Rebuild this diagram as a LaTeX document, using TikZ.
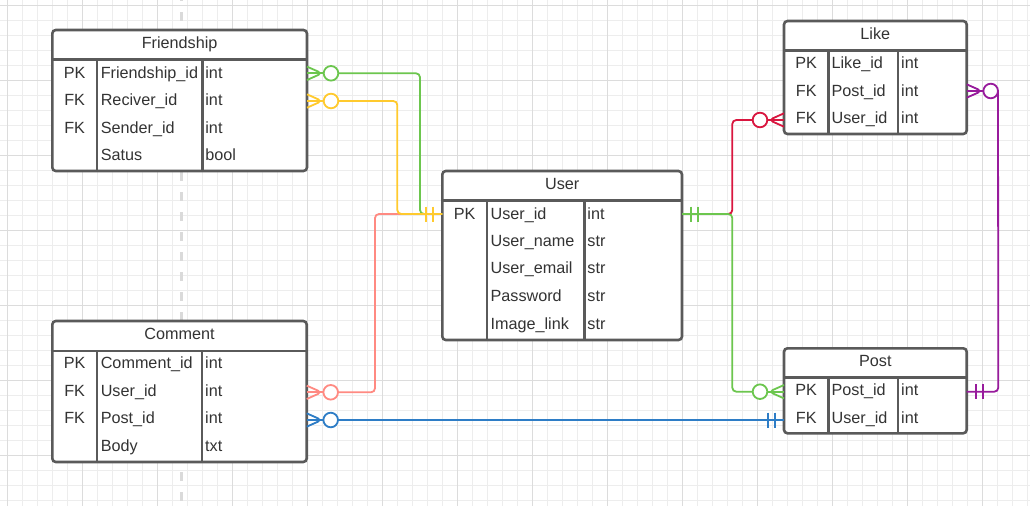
\documentclass[tikz,border=0pt]{standalone}
\usepackage{fontspec}
\setmainfont{Liberation Sans}
\usetikzlibrary{calc}
\definecolor{gridminor}{HTML}{EDEDED}
\definecolor{gridmajor}{HTML}{DCDCDC}
\definecolor{dashgray}{HTML}{DADADA}
\definecolor{tborder}{HTML}{5A5A5A}
\definecolor{ttext}{HTML}{333333}
\definecolor{cgreen}{HTML}{6CC64E}
\definecolor{cyellow}{HTML}{FFCA2E}
\definecolor{csalmon}{HTML}{FF8A82}
\definecolor{cblue}{HTML}{2E7DC6}
\definecolor{cred}{HTML}{D9163F}
\definecolor{cpurple}{HTML}{981B9C}
\tikzset{
  tbl/.style={draw=tborder, line width=2.6pt, rounded corners=3.5pt, fill=white,
    anchor=north west, outer sep=0pt, inner sep=0pt},
  tline/.style={draw=tborder, line width=2.4pt},
  txt/.style={font=\fontsize{16.2}{19}\selectfont, text=ttext, inner sep=0pt},
  ttl/.style={txt, anchor=base},
  kcol/.style={txt, anchor=base},
  ncol/.style={txt, anchor=base west},
  conn/.style={line width=1.8pt, rounded corners=4pt},
  zc/.style={circle, line width=1.8pt, minimum size=14.6pt, inner sep=0pt, outer sep=0pt, fill=white},
}
\newcommand\ermany[4]{%
  \draw[conn,draw=#3] ($(#1)+(0,-6.7)$) -- ($(#1)+(#2*15,0)$) -- ($(#1)+(0,6.7)$);
  \draw[conn,draw=#3] (#1) -- ($(#1)+(#2*17,0)$);
  \node[zc,draw=#3] (#4) at ($(#1)+(#2*24,0)$) {};
}
\newcommand\ermone[3]{%
  \draw[line width=1.8pt,draw=#3] ($(#1)+(#2*9,-7.5)$) -- ($(#1)+(#2*9,7.5)$);
  \draw[line width=1.8pt,draw=#3] ($(#1)+(#2*16,-7.5)$) -- ($(#1)+(#2*16,7.5)$);
}
\begin{document}
\begin{tikzpicture}[x=1pt,y=-1pt]
\useasboundingbox (0,0) rectangle (1030,506);
\fill[white] (0,0) rectangle (1030,506);
% grid
\foreach \x in {7.3,22.3,...,1028} \draw[gridminor,line width=1pt] (\x,0) -- (\x,506);
\foreach \y in {5,20,...,501} \draw[gridminor,line width=1pt] (0,\y) -- (1030,\y);
\foreach \x in {7.3,82.3,...,1000} \draw[gridmajor,line width=1pt] (\x,0) -- (\x,506);
\foreach \y in {5,80,...,460} \draw[gridmajor,line width=1pt] (0,\y) -- (1030,\y);
% dashed divider
\draw[dashgray,line width=3pt,dash pattern=on 8.5pt off 11.5pt,dash phase=8pt] (181.3,0) -- (181.3,506);

% ---------- Friendship ----------
\node[tbl, minimum width=254.7pt, minimum height=141pt] (friendship) at (52.3,30) {};
\draw[tline] (52.3,59.3) -- (307,59.3);
\draw[tline] (97,59.3) -- (97,171);
\draw[tline] (202.3,59.3) -- (202.3,171);
\node[ttl] (fr-title) at (179.6,48.6) {Friendship};
\foreach \k/\b [count=\i] in {PK/78.1,FK/105.8,FK/133.1}
  \node[kcol] (fr-k\i) at (74.6,\b) {\k};
\foreach \n/\t/\b [count=\i] in {Friendship\_id/int/78.1,Reciver\_id/int/105.8,Sender\_id/int/133.1,Satus/bool/160.8}{
  \node[ncol] (fr-n\i) at (100.6,\b) {\n};
  \node[ncol] (fr-t\i) at (205.2,\b) {\t};
}

% ---------- Comment ----------
\node[tbl, minimum width=254.4pt, minimum height=141pt] (comment) at (52.3,321) {};
\draw[tline] (52.3,351) -- (306.7,351);
\draw[tline] (97,351) -- (97,462);
\draw[tline] (202,351) -- (202,462);
\node[ttl] (co-title) at (179.5,339.8) {Comment};
\foreach \k/\b [count=\i] in {PK/368.5,FK/396.5,FK/423.5}
  \node[kcol] (co-k\i) at (74.6,\b) {\k};
\foreach \n/\t/\b [count=\i] in {Comment\_id/int/368.5,User\_id/int/396.5,Post\_id/int/423.5,Body/txt/451.5}{
  \node[ncol] (co-n\i) at (100.6,\b) {\n};
  \node[ncol] (co-t\i) at (205,\b) {\t};
}

% ---------- User ----------
\node[tbl, minimum width=239.7pt, minimum height=169pt] (user) at (442.3,171) {};
\draw[tline] (442.3,200.5) -- (682,200.5);
\draw[tline] (487,200.5) -- (487,340);
\draw[tline] (584.3,200.5) -- (584.3,340);
\node[ttl] (us-title) at (562.2,189.8) {User};
\node[kcol] (us-k1) at (464.6,219.1) {PK};
\foreach \n/\t/\b [count=\i] in {User\_id/int/219.1,User\_name/str/246.5,User\_email/str/273.5,Password/str/301.5,Image\_link/str/329.5}{
  \node[ncol] (us-n\i) at (490.4,\b) {\n};
  \node[ncol] (us-t\i) at (587.2,\b) {\t};
}

% ---------- Like ----------
\node[tbl, minimum width=182.7pt, minimum height=113pt] (like) at (784,21) {};
\draw[tline] (784,50.5) -- (966.7,50.5);
\draw[tline] (828.3,50.5) -- (828.3,134);
\draw[tline] (898,50.5) -- (898,134);
\node[ttl] (li-title) at (875.3,39.8) {Like};
\foreach \k/\b [count=\i] in {PK/68.5,FK/96.5,FK/123.5}
  \node[kcol] (li-k\i) at (806.2,\b) {\k};
\foreach \n/\t/\b [count=\i] in {Like\_id/int/68.5,Post\_id/int/96.5,User\_id/int/123.5}{
  \node[ncol] (li-n\i) at (831.4,\b) {\n};
  \node[ncol] (li-t\i) at (901,\b) {\t};
}

% ---------- Post ----------
\node[tbl, minimum width=182.7pt, minimum height=85pt] (post) at (784,348.3) {};
\draw[tline] (784,377.5) -- (966.7,377.5);
\draw[tline] (828.3,377.5) -- (828.3,433.3);
\draw[tline] (898,377.5) -- (898,433.3);
\node[ttl] (po-title) at (875.3,366.8) {Post};
\foreach \k/\b [count=\i] in {PK/395.8,FK/423.5}
  \node[kcol] (po-k\i) at (806.2,\b) {\k};
\foreach \n/\t/\b [count=\i] in {Post\_id/int/395.8,User\_id/int/423.5}{
  \node[ncol] (po-n\i) at (831.4,\b) {\n};
  \node[ncol] (po-t\i) at (901,\b) {\t};
}

% ---------- connection points ----------
\coordinate (fr-e1) at (307,73.3);
\coordinate (fr-e2) at (307,101);
\coordinate (co-e2) at (306.7,392.3);
\coordinate (co-e3) at (306.7,420);
\coordinate (us-w) at (442.3,214);
\coordinate (us-e) at (682,214);
\coordinate (li-w3) at (784,120);
\coordinate (li-e2) at (966.7,91);
\coordinate (po-w1) at (784,391.7);
\coordinate (po-w2) at (784,420);
\coordinate (po-e1) at (966.7,391.7);
\coordinate (b-green1) at (420,214);
\coordinate (b-yellow) at (397.3,214);
\coordinate (b-salmon) at (375,214);
\coordinate (b-red) at (732.3,120);
\coordinate (b-green2) at (732.3,391.7);
\coordinate (b-purple) at (998.3,391.7);

% crow's feet with circles
\ermany{fr-e1}{1}{cgreen}{fr-c1}
\ermany{fr-e2}{1}{cyellow}{fr-c2}
\ermany{co-e2}{1}{csalmon}{co-c2}
\ermany{co-e3}{1}{cblue}{co-c3}
\ermany{li-w3}{-1}{cred}{li-c3}
\ermany{li-e2}{1}{cpurple}{li-c2}
\ermany{po-w1}{-1}{cgreen}{po-c1}

% connectors
\draw[conn,csalmon] (co-c2.east) -| (b-salmon) -- (us-w);
\draw[conn,cgreen] (fr-c1.east) -| (b-green1) -- (us-w);
\draw[conn,cyellow] (fr-c2.east) -| (b-yellow) -- (us-w);
\draw[conn,cblue] (co-c3.east) -- (po-w2);
\draw[conn,cred] (us-e) -| (b-red) -- (li-c3.west);
\draw[conn,cgreen] (us-e) -| (b-green2) -- (po-c1.west);
\draw[conn,cpurple] (li-c2.east) -- (b-purple) -- (po-e1);

% one-and-only-one marks
\ermone{us-w}{-1}{cyellow}
\ermone{us-e}{1}{cgreen}
\ermone{po-w2}{-1}{cblue}
\ermone{po-e1}{1}{cpurple}
\end{tikzpicture}
\end{document}
